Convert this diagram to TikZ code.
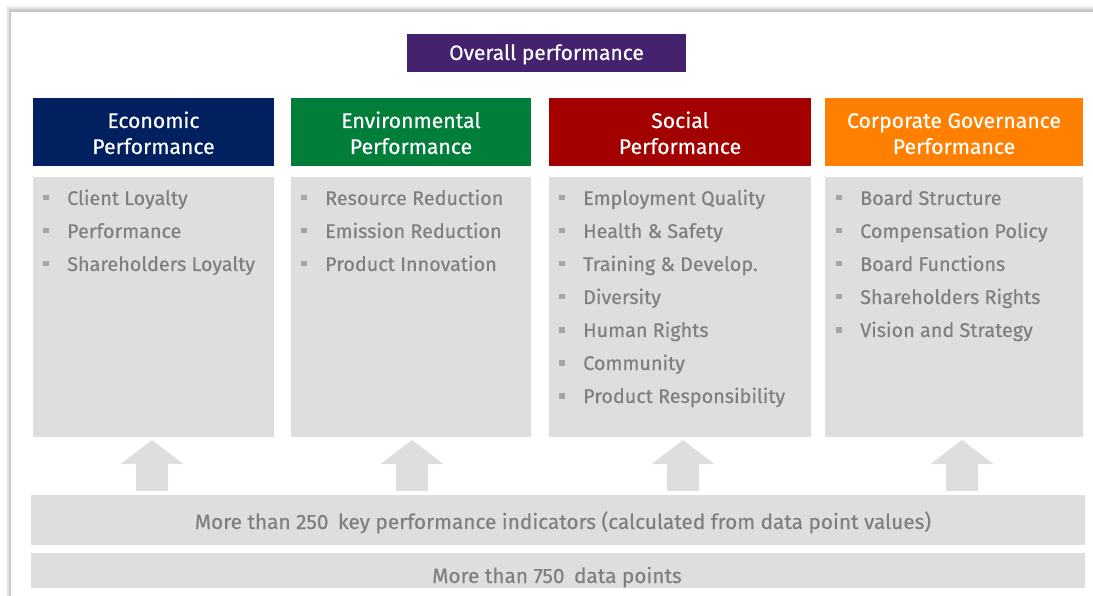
\documentclass[tikz,border=0pt]{standalone}
\usepackage{fontspec}
\setmainfont{Fira Sans}[FakeBold=0.4]
\usetikzlibrary{calc}
\definecolor{boxgray}{HTML}{DEDEDE}
\definecolor{txtgray}{HTML}{7F7F7F}
\definecolor{bulgray}{HTML}{A5A5A5}
\definecolor{framegray}{HTML}{C4C4C4}
\definecolor{purp}{HTML}{44226E}
\definecolor{navy}{HTML}{002060}
\definecolor{envgreen}{HTML}{007E3A}
\definecolor{socred}{HTML}{A30000}
\definecolor{govorange}{HTML}{FF8000}
\tikzset{
  hdr/.style={anchor=north west, inner sep=0pt, minimum height=68pt},
  hdrtxt/.style={anchor=base, inner sep=0pt, text=white, font=\fontsize{21.2}{26}\selectfont},
  panel/.style={anchor=north west, inner sep=0pt, fill=boxgray, minimum height=260pt},
  itm/.style={anchor=base west, inner sep=0pt, text=txtgray, font=\fontsize{19.8}{22}\selectfont},
  bar/.style={anchor=north west, inner sep=0pt, fill=boxgray, minimum width=1054pt},
  bartxt/.style={anchor=base, inner sep=0pt, text=txtgray, font=\fontsize{20.8}{24}\selectfont},
  blockarrow/.style={fill=boxgray}
}
\newcommand{\uparrowat}[1]{% #1 = base coordinate name (bottom centre)
  \fill[blockarrow] (#1) -- ++(16,0) -- ++(0,-27) -- ++(15.5,0) -- ++(-31.5,-24) -- ++(-31.5,24) -- ++(15.5,0) -- ++(0,27) -- cycle;}
\begin{document}
\begin{tikzpicture}[x=1pt,y=-1pt]
\useasboundingbox (0,0) rectangle (1093,596);
% frame with soft shadow
\foreach \d/\o in {4/0.05,3/0.08,2/0.12,1/0.18}{
  \draw[black, opacity=\o, line width=1pt] (10.5-\d,700) -- (10.5-\d,11-\d) -- (1200,11-\d);
}
\draw[framegray, line width=1.2pt] (10.5,700) -- (10.5,11) -- (1200,11);

% overall
\node[anchor=north west, inner sep=0pt, fill=purp, minimum width=279pt, minimum height=38pt] (overall) at (407,34) {};
\node[anchor=base, inner sep=0pt, text=white, font=\fontsize{21}{24}\selectfont] (overallT) at (546.5,60) {Overall performance};

% headers
\node[hdr, fill=navy, minimum width=241pt] (ecoH) at (33,98) {};
\node[hdr, fill=envgreen, minimum width=240pt] (envH) at (291,98) {};
\node[hdr, fill=socred, minimum width=262pt] (socH) at (549,98) {};
\node[hdr, fill=govorange, minimum width=258pt] (govH) at (825,98) {};
\node[hdrtxt] (ecoT1) at (153.5,128) {Economic};
\node[hdrtxt] (ecoT2) at (153.5,154) {Performance};
\node[hdrtxt] (envT1) at (411,128) {Environmental};
\node[hdrtxt] (envT2) at (411,154) {Performance};
\node[hdrtxt] (socT1) at (680,128) {Social};
\node[hdrtxt] (socT2) at (680,154) {Performance};
\node[hdrtxt] (govT1) at (954,128) {Corporate Governance};
\node[hdrtxt] (govT2) at (954,154) {Performance};

% panels
\node[panel, minimum width=241pt] (ecoP) at (33,177) {};
\node[panel, minimum width=240pt] (envP) at (291,177) {};
\node[panel, minimum width=262pt] (socP) at (549,177) {};
\node[panel, minimum width=258pt] (govP) at (825,177) {};

% items
\foreach \t [count=\i from 0] in {Client Loyalty, Performance, Shareholders Loyalty}{
  \node[itm] (eco-\i) at (67,205+33*\i) {\t};
  \fill[bulgray] ($(eco-\i.base west)+(-24,-10)$) rectangle ++(5.5,5.5);
}
\foreach \t [count=\i from 0] in {Resource Reduction, Emission Reduction, Product Innovation}{
  \node[itm] (env-\i) at (325,205+33*\i) {\t};
  \fill[bulgray] ($(env-\i.base west)+(-24,-10)$) rectangle ++(5.5,5.5);
}
\foreach \t [count=\i from 0] in {Employment Quality, Health \& Safety, Training \& Develop., Diversity, Human Rights, Community, Product Responsibility}{
  \node[itm] (soc-\i) at (583,205+33*\i) {\t};
  \fill[bulgray] ($(soc-\i.base west)+(-24,-10)$) rectangle ++(5.5,5.5);
}
\foreach \t [count=\i from 0] in {Board Structure, Compensation Policy, Board Functions, Shareholders Rights, Vision and Strategy}{
  \node[itm] (gov-\i) at (860,205+33*\i) {\t};
  \fill[bulgray] ($(gov-\i.base west)+(-24,-10)$) rectangle ++(5.5,5.5);
}

% bars
\node[bar, minimum height=50pt] (kpi) at (31,495) {};
\node[bartxt] (kpiT) at (563,529) {More than 250\hspace{4pt} key performance indicators (calculated from data point values)};
\node[bar, minimum height=35pt] (data) at (31,553) {};
\node[bartxt] (dataT) at (557,583) {More than 750\hspace{4pt} data points};

% block arrows from the KPI bar up to the panels
\coordinate (aEco) at ($(kpi.north west)+(121,-4)$);
\coordinate (aEnv) at ($(kpi.north west)+(381,-4)$);
\coordinate (aSoc) at ($(kpi.north west)+(652,-4)$);
\coordinate (aGov) at ($(kpi.north west)+(931,-4)$);
\uparrowat{aEco}
\uparrowat{aEnv}
\uparrowat{aSoc}
\uparrowat{aGov}
\end{tikzpicture}
\end{document}
